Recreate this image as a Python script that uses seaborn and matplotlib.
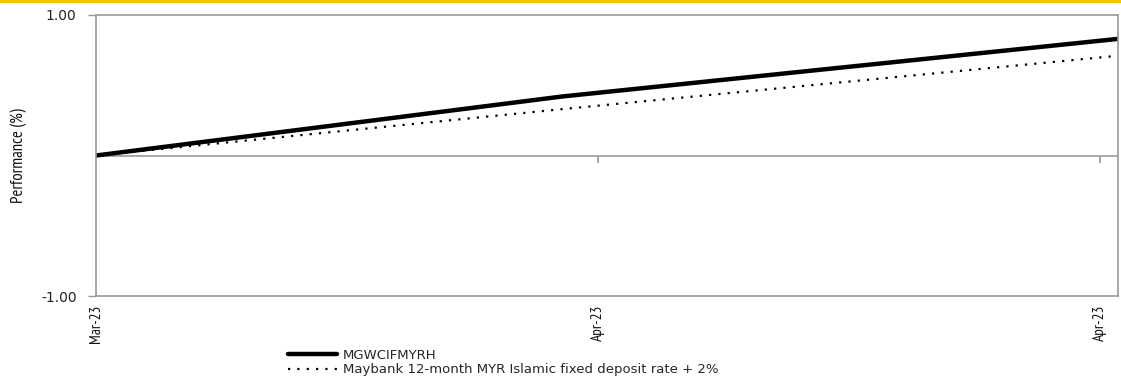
import matplotlib
matplotlib.use('Agg')
import matplotlib.pyplot as plt
import seaborn as sns
import pandas as pd
from matplotlib import font_manager as fm
from matplotlib.patches import Rectangle

# data (day offsets from first date)
days = [0, 13, 28.5]
fund_perf = [0.0, 0.42, 0.83]
bench_perf = [0.0, 0.33, 0.71]
tick_days = [0, 14, 28]
tick_labels = ['Mar-23', 'Apr-23', 'Apr-23']
fund_name = 'MGWCIFMYRH'
bench_name = 'Maybank 12-month MYR Islamic fixed deposit rate + 2%'

sns.set_style('white')
plt.rcParams['font.family'] = ['DejaVu Sans']

# pick a narrow font if one is around
installed = {f.name for f in fm.fontManager.ttflist}
candidates = ['Liberation Sans Narrow', 'Arial Narrow', 'PT Sans Narrow', 'Archivo Narrow',
              'Roboto Condensed', 'Open Sans Condensed', 'Fira Sans Condensed',
              'IBM Plex Sans Condensed', 'Barlow Condensed', 'Pragati Narrow']
narrow = [c for c in candidates if c in installed][:1] + ['DejaVu Sans']

df = pd.DataFrame({'day': days, 'fund': fund_perf, 'bench': bench_perf})

fig = plt.figure(figsize=(11.21, 3.78), dpi=100)
ax = fig.add_axes([96 / 1121, 1 - 296 / 378, (1118 - 96) / 1121, (296 - 15) / 378])

sns.lineplot(data=df, x='day', y='fund', ax=ax, color='black', linewidth=3.2, label=fund_name)
sns.lineplot(data=df, x='day', y='bench', ax=ax, color='black', linewidth=1.6,
             linestyle=(0, (1, 3.2)), label=bench_name)

ax.set_xlim(days[0], days[-1])
ax.set_ylim(-1, 1)
grey = '#999999'
ax.axhline(0, color=grey, linewidth=1.2, zorder=0)
# small category ticks hanging under the zero line
ax.vlines(tick_days[1:], -0.05, 0, color=grey, linewidth=1.2, zorder=0)

for s in ax.spines.values():
    s.set_color(grey)
    s.set_linewidth(1.2)

ax.set_yticks([-1, 1])
ax.set_yticklabels(['-1.00', '1.00'], fontsize=10, color='#222222')
ax.tick_params(axis='y', direction='out', length=6, width=1, color=grey, pad=8, left=True)

ax.set_xticks(tick_days)
ax.set_xticklabels(tick_labels, rotation=90, fontsize=11, family=narrow, color='#111111')
ax.tick_params(axis='x', length=0, pad=6)
ax.set_xlabel('')
ax.set_ylabel('Performance (%)', fontsize=12, family=narrow, labelpad=10, color='#111111')

ax.legend_.remove()
handles, labels = ax.get_legend_handles_labels()
fig.legend(handles, labels, loc='upper left', bbox_to_anchor=(288 / 1121, 1 - 349 / 378),
           frameon=False, fontsize=9.5, handlelength=3.7, handletextpad=0.45,
           labelspacing=0.1, borderpad=0, borderaxespad=0)

# yellow strip at the top
fig.add_artist(Rectangle((0, 1 - 3 / 378), 1, 3 / 378, transform=fig.transFigure,
                         facecolor='#F5C400', edgecolor='none'))

fig.savefig('out.png', dpi=100)
plt.close(fig)
